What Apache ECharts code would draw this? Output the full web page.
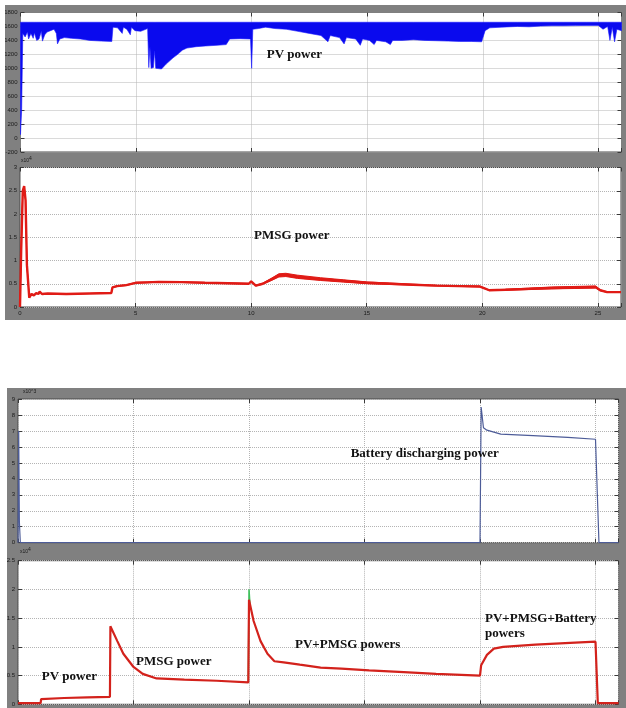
<!DOCTYPE html>
<html>
<head>
<meta charset="utf-8">
<script src="https://cdn.jsdelivr.net/npm/echarts@6/dist/echarts.min.js"></script>
<style>
  html, body { margin: 0; padding: 0; background: #fff; width: 626px; height: 708px; overflow: hidden; position: relative; }
  #scopeA { position: absolute; left: 5px; top: 5px; width: 621px; height: 315px; }
  #scopeB { position: absolute; left: 7px; top: 388px; width: 619px; height: 320px; }
</style>
</head>
<body>
<div id="scopeA"></div>
<div id="scopeB"></div>
<script>
// ---- time base (s) shared by all scopes ----
const T_MAX = 26;
const T_TICKS = [0, 5, 10, 15, 20, 25];

// ---- PV power (W): signal ripples between its upper rail and a lower envelope ----
const PV_TOP = 1660;
const pvTime = [0, 0.05, 0.1, 0.2, 0.3, 0.35, 0.45, 0.55, 0.6, 0.7, 0.8, 0.9, 0.95, 1.05, 1.15, 1.3, 1.45, 1.55, 1.6, 1.7,
  1.9, 2.2, 2.6, 3.0, 3.5, 3.95, 4.0, 4.2, 4.4, 4.45, 4.6, 4.75, 4.8, 4.95, 5.2, 5.5, 5.55, 5.6, 5.65, 5.75,
  5.8, 5.85, 6.1, 6.3, 6.6, 6.8, 7.0, 7.2, 7.6, 8.0, 8.5, 8.9, 9.05, 9.5, 9.95, 10.0, 10.05, 10.3, 10.6, 11.0,
  11.5, 12.0, 12.5, 13.0, 13.3, 13.4, 13.8, 14.0, 14.1, 14.5, 14.7, 14.8, 15.1, 15.3, 15.4, 15.8, 16.0, 16.1, 16.5, 17.0,
  17.5, 18.0, 18.5, 19.0, 19.5, 19.95, 20.1, 20.3, 20.8, 21.5, 22.0, 22.5, 23.0, 23.5, 24.0, 24.5, 25.0, 25.2, 25.4, 25.5,
  25.6, 25.7, 25.8, 26.0];
const pvLower = [50, 400, 1500, 1450, 1520, 1420, 1500, 1430, 1510, 1400, 1420, 1530, 1390, 1480, 1520, 1540, 1560, 1500, 1350, 1420,
  1440, 1430, 1420, 1400, 1390, 1385, 1590, 1580, 1500, 1590, 1560, 1480, 1590, 1540, 1530, 1570, 1010, 1300, 1000, 1010,
  1250, 1000, 990, 1060, 1150, 1200, 1260, 1290, 1310, 1320, 1330, 1340, 1420, 1425, 1420, 1000, 1560, 1570, 1590, 1570,
  1560, 1530, 1500, 1470, 1380, 1470, 1440, 1350, 1440, 1420, 1330, 1420, 1400, 1340, 1400, 1380, 1340, 1400, 1400, 1410,
  1400, 1395, 1390, 1385, 1385, 1380, 1540, 1580, 1590, 1600, 1595, 1605, 1610, 1610, 1612, 1615, 1615, 1560, 1600, 1400,
  1590, 1380, 1560, 1540];

// ---- PMSG power (x10^4 W): mean trace and half-width of its ripple ----
const pmsgTime = [0, 0.05, 0.12, 0.18, 0.24, 0.3, 0.4, 0.5, 0.6, 0.7, 0.8, 0.85, 0.95, 1.2, 2.0, 3.0, 3.95, 4.0, 4.2, 4.6,
  5.0, 5.5, 6.0, 7.0, 8.0, 9.0, 9.9, 10.0, 10.2, 10.5, 10.9, 11.2, 11.5, 12.0, 13.0, 14.0, 15.0, 16.0, 17.0, 18.0,
  19.0, 19.9, 20.1, 20.3, 21.0, 22.0, 23.0, 24.0, 24.9, 25.1, 25.4, 26.0];
const pmsgPower = [0, 1.2, 2.5, 2.6, 2.3, 0.9, 0.2, 0.28, 0.25, 0.3, 0.28, 0.33, 0.28, 0.29, 0.28, 0.29, 0.3, 0.42, 0.45, 0.47,
  0.52, 0.53, 0.54, 0.535, 0.52, 0.51, 0.5, 0.55, 0.46, 0.5, 0.6, 0.68, 0.69, 0.65, 0.6, 0.56, 0.52, 0.5, 0.48, 0.46,
  0.45, 0.44, 0.4, 0.36, 0.37, 0.39, 0.41, 0.42, 0.43, 0.36, 0.32, 0.32];
const pmsgRipple = [0, 0, 0, 0, 0, 0, 0, 0, 0, 0, 0, 0, 0, 0, 0, 0, 0, 0.008, 0.008, 0.008,
  0.008, 0.008, 0.008, 0.008, 0.008, 0.008, 0.008, 0.008, 0.008, 0.012, 0.025, 0.035, 0.035, 0.035, 0.03, 0.025, 0.02, 0.015, 0.01, 0.008,
  0.008, 0.008, 0.006, 0.006, 0.012, 0.016, 0.02, 0.022, 0.022, 0.008, 0.008, 0.008];

// ---- Battery discharging power (x10^3 W) ----
const batTime = [0, 0.03, 0.06, 0.1, 20.0, 20.05, 20.15, 20.3, 20.9, 22.3, 23.8, 25.0, 25.15, 26.0];
const batPower = [0, 7, 1.3, 0, 0, 8.5, 7.2, 7.05, 6.8, 6.7, 6.6, 6.48, 0, 0];

// ---- Total delivered power (x10^4 W) ----
const totTime = [0, 0.98, 1.0, 2.0, 3.0, 3.98, 4.0, 4.3, 4.56, 5.0, 5.4, 6.0, 7.2, 8.6, 9.97, 10.0, 10.2, 10.5, 10.8, 11.1,
  11.5, 12.2, 13.1, 14.0, 15.2, 16.7, 18.1, 20.0, 20.05, 20.3, 20.6, 21.0, 22.4, 23.9, 25.0, 25.1, 26.0];
const totPower = [0.02, 0.02, 0.09, 0.11, 0.12, 0.13, 1.36, 1.1, 0.88, 0.65, 0.53, 0.45, 0.43, 0.41, 0.38, 1.82, 1.45, 1.1, 0.88, 0.75,
  0.73, 0.69, 0.64, 0.62, 0.59, 0.56, 0.53, 0.5, 0.68, 0.86, 0.97, 1.0, 1.04, 1.07, 1.09, 0.02, 0.02];
// green reference trace peaking at the 10 s switching instant
const refTime = [9.97, 10.0, 10.04];
const refPower = [0.38, 2.0, 1.75];

// ---- captions ----
const captionsA = [
  { text: 'PV power', x: 261.7, y: 49.3 },
  { text: 'PMSG power', x: 249, y: 231 }
];
const captionsB = [
  { text: 'Battery discharging power', x: 343.7, y: 66 },
  { text: 'PV power', x: 34.7, y: 288.7 },
  { text: 'PMSG power', x: 129, y: 273.7 },
  { text: 'PV+PMSG powers', x: 288, y: 256.3 },
  { text: 'PV+PMSG+Battery', x: 478, y: 230.3 },
  { text: 'powers', x: 478, y: 245.3 }
];

const pairs = (xs, ys) => xs.map((x, i) => [x, ys[i]]);

const FRAME = '#808080';
const LABEL = { fontSize: 6, color: '#1a1a1a', fontFamily: 'Liberation Sans, Arial, sans-serif' };
const DOTTED = { show: true, lineStyle: { color: '#b4b4b4', type: 'dotted', width: 1 } };
const TICK = { show: true, inside: true, length: 4, lineStyle: { color: '#3a3a3a', width: 1 } };
const NO_LINE = { show: false, onZero: false };

function gridBox(left, top, width, height) {
  return { left, top, width, height, show: true, backgroundColor: '#ffffff', borderColor: '#4a4a4a', borderWidth: 1,
           containLabel: false, outerBoundsMode: 'none' };
}

function timeAxes(gi, showLabels) {
  return [
    { type: 'value', gridIndex: gi, min: 0, max: T_MAX, interval: 5, position: 'bottom',
      axisLine: NO_LINE, axisTick: TICK, splitLine: DOTTED,
      axisLabel: Object.assign({ show: showLabels, margin: 3,
        formatter: v => (T_TICKS.indexOf(v) >= 0 ? String(v) : '') }, LABEL) },
    { type: 'value', gridIndex: gi, min: 0, max: T_MAX, interval: 5, position: 'top',
      axisLine: NO_LINE, axisTick: TICK, splitLine: { show: false }, axisLabel: { show: false } }
  ];
}

function valueAxes(gi, min, max, interval) {
  return [
    { type: 'value', gridIndex: gi, min, max, interval, position: 'left',
      axisLine: NO_LINE, axisTick: TICK, splitLine: DOTTED,
      axisLabel: Object.assign({ show: true, margin: 3, formatter: v => String(v) }, LABEL) },
    { type: 'value', gridIndex: gi, min, max, interval, position: 'right',
      axisLine: NO_LINE, axisTick: TICK, splitLine: { show: false }, axisLabel: { show: false } }
  ];
}

function captionGraphics(list) {
  return list.map(c => ({
    type: 'text', x: c.x, y: c.y, z: 100,
    style: { text: c.text, font: 'bold 13px "Liberation Serif", "Times New Roman", serif', fill: '#111', align: 'left', verticalAlign: 'middle' }
  }));
}

function exponentText(x, y, base, exp) {
  return {
    type: 'text', x, y, z: 100,
    style: {
      text: '{b|' + base + '}{e|' + exp + '}',
      rich: {
        b: { fontSize: 5, fill: '#1a1a1a', fontFamily: 'Liberation Sans, Arial' },
        e: { fontSize: 5, fill: '#1a1a1a', fontFamily: 'Liberation Sans, Arial', verticalAlign: 'bottom', padding: [0, 0, 5, 0] }
      }
    }
  };
}

// polygon between two traces sampled on the same time base
function bandItem(times, lowerAt, upperAt, style) {
  return (params, api) => {
    const lower = times.map((t, i) => api.coord([t, lowerAt(i)]));
    const upper = times.map((t, i) => api.coord([t, upperAt(i)])).reverse();
    return { type: 'polygon', shape: { points: lower.concat(upper) }, style };
  };
}

// ================= scope A: PV and PMSG =================
const chartA = echarts.init(document.getElementById('scopeA'), null, { renderer: 'canvas' });
chartA.setOption({
  animation: false,
  backgroundColor: FRAME,
  grid: [gridBox(15.5, 7.5, 601, 139.5), gridBox(15, 162.5, 601, 139.5)],
  xAxis: [...timeAxes(0, false), ...timeAxes(1, true)],
  yAxis: [...valueAxes(0, -200, 1800, 200), ...valueAxes(1, 0, 3, 0.5)],
  series: [
    {
      // PV ripple: filled between the lower envelope and the upper rail
      type: 'custom', xAxisIndex: 0, yAxisIndex: 0, data: [[0, PV_TOP]], clip: true, silent: true,
      renderItem: bandItem(pvTime, i => pvLower[i], () => PV_TOP,
                           { fill: '#0a0aee', stroke: '#1a1aff', lineWidth: 0.6 })
    },
    {
      // PMSG ripple band
      type: 'custom', xAxisIndex: 2, yAxisIndex: 2, data: [[0, 0]], clip: true, silent: true,
      renderItem: bandItem(pmsgTime, i => pmsgPower[i] - pmsgRipple[i], i => pmsgPower[i] + pmsgRipple[i],
                           { fill: '#e01b16', stroke: '#e01b16', lineWidth: 1 })
    },
    {
      type: 'line', xAxisIndex: 2, yAxisIndex: 2, data: pairs(pmsgTime, pmsgPower),
      symbol: 'none', lineStyle: { color: '#e01b16', width: 2.4 }, silent: true
    }
  ],
  graphic: [...captionGraphics(captionsA), exponentText(16, 151, 'x10', '4')]
});

// ================= scope B: battery and total =================
const chartB = echarts.init(document.getElementById('scopeB'), null, { renderer: 'canvas' });
chartB.setOption({
  animation: false,
  backgroundColor: FRAME,
  grid: [gridBox(11, 11, 600.6, 143.7), gridBox(11, 172.7, 600.6, 143.6)],
  xAxis: [...timeAxes(0, false), ...timeAxes(1, true)],
  yAxis: [...valueAxes(0, 0, 9, 1), ...valueAxes(1, 0, 2.5, 0.5)],
  series: [
    {
      type: 'line', xAxisIndex: 0, yAxisIndex: 0, data: pairs(batTime, batPower),
      symbol: 'none', lineStyle: { color: '#4d5c98', width: 1.2 }, silent: true
    },
    {
      type: 'line', xAxisIndex: 2, yAxisIndex: 2, data: pairs(refTime, refPower),
      symbol: 'none', lineStyle: { color: '#3cc05a', width: 1.5 }, silent: true
    },
    {
      type: 'line', xAxisIndex: 2, yAxisIndex: 2, data: pairs(totTime, totPower),
      symbol: 'none', lineStyle: { color: '#d3221c', width: 2.2 }, silent: true
    }
  ],
  graphic: [...captionGraphics(captionsB),
            { type: 'text', x: 16, y: 1, z: 100, style: { text: 'x10^3', fontSize: 5, fill: '#1a1a1a', fontFamily: 'Liberation Sans, Arial' } },
            exponentText(13, 159, 'x10', '4')]
});
</script>
</body>
</html>
